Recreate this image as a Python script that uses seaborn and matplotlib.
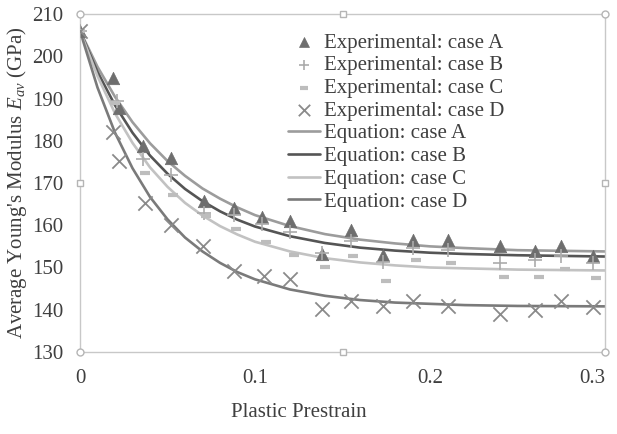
import matplotlib
matplotlib.use("Agg")
import matplotlib.pyplot as plt
import seaborn as sns

strain_A = [0, 0.019, 0.022, 0.036, 0.052, 0.071, 0.088, 0.104, 0.120, 0.138, 0.155, 0.173, 0.190, 0.210, 0.240, 0.260, 0.275, 0.293]
modulus_A = [206, 194.8, 187.8, 178.8, 175.9, 165.8, 164.0, 162.0, 161.0, 153.2, 158.9, 153.0, 156.4, 156.6, 155.0, 153.9, 155.1, 152.8]

strain_B = [0, 0.021, 0.036, 0.052, 0.071, 0.088, 0.104, 0.120, 0.138, 0.155, 0.173, 0.190, 0.210, 0.240, 0.260, 0.275, 0.293]
modulus_B = [206, 189.4, 175.6, 171.8, 163.0, 162.4, 160.3, 158.4, 153.5, 156.3, 151.4, 154.6, 154.1, 151.0, 151.8, 152.8, 151.0]

strain_C = [0, 0.020, 0.037, 0.053, 0.072, 0.089, 0.106, 0.122, 0.140, 0.156, 0.175, 0.192, 0.212, 0.242, 0.262, 0.277, 0.295]
modulus_C = [206, 189.0, 172.4, 167.2, 162.1, 159.0, 156.0, 153.0, 150.1, 152.8, 146.9, 151.8, 151.0, 147.7, 147.7, 149.7, 147.6]

strain_D = [0, 0.019, 0.022, 0.037, 0.052, 0.070, 0.088, 0.105, 0.120, 0.138, 0.155, 0.173, 0.190, 0.210, 0.240, 0.260, 0.275, 0.293]
modulus_D = [206, 182.0, 175.2, 165.2, 160.0, 155.1, 149.1, 148.0, 147.2, 140.2, 142.1, 140.9, 142.0, 140.9, 139.0, 140.0, 142.1, 140.7]

# ---- equation curves ----
curve_strain = [0, 0.01, 0.02, 0.03, 0.04, 0.05, 0.06, 0.07, 0.08, 0.09, 0.10, 0.12, 0.14, 0.16, 0.18, 0.20, 0.22, 0.25, 0.30]
curve_A = [206, 197.5, 190.4, 184.4, 179.4, 175.2, 171.7, 168.7, 166.3, 164.2, 162.4, 159.8, 157.9, 156.6, 155.7, 155.0, 154.6, 154.1, 153.8]
curve_B = [206, 196.3, 188.4, 181.9, 176.5, 172.2, 168.6, 165.7, 163.3, 161.3, 159.7, 157.4, 155.8, 154.7, 154.0, 153.5, 153.2, 152.9, 152.6]
curve_C = [206, 195.3, 186.5, 179.5, 173.7, 169.1, 165.3, 162.3, 159.8, 157.8, 156.1, 153.8, 152.2, 151.2, 150.5, 150.0, 149.8, 149.5, 149.3]
curve_D = [206, 192.6, 181.9, 173.5, 166.7, 161.4, 157.1, 153.8, 151.1, 148.9, 147.2, 144.8, 143.3, 142.3, 141.7, 141.4, 141.1, 140.9, 140.8]

x_ticks = [0, 0.1, 0.2, 0.3]
x_tick_labels = ["0", "0.1", "0.2", "0.3"]
y_ticks = [130, 140, 150, 160, 170, 180, 190, 200, 210]

sns.set_theme(style="white")
plt.rcParams["font.family"] = ["Liberation Serif", "DejaVu Serif"]
plt.rcParams["mathtext.fontset"] = "custom"
plt.rcParams["mathtext.rm"] = "Liberation Serif"
plt.rcParams["mathtext.it"] = "Liberation Serif:italic"

W, H = 617, 434
fig = plt.figure(figsize=(W / 100, H / 100), dpi=100)
fig.patch.set_facecolor("white")
ax = fig.add_axes([80 / W, 1 - 352 / H, 525 / W, 338 / H])

txt = "#3f3f3f"

sns.scatterplot(x=strain_A, y=modulus_A, marker="^", s=80, color="#6e6e6e",
                edgecolor="#6e6e6e", linewidth=0.5, label="Experimental: case A", ax=ax, zorder=3)
sns.scatterplot(x=strain_B, y=modulus_B, marker="+", s=95, color="#ababab",
                linewidth=1.2, label="Experimental: case B", ax=ax, zorder=3)
sns.scatterplot(x=strain_C, y=modulus_C, marker="_", s=45, color="#bdbdbd",
                linewidth=3.0, label="Experimental: case C", ax=ax, zorder=3)
sns.scatterplot(x=strain_D, y=modulus_D, marker="x", s=105, color="#8a8a8a",
                linewidth=1.3, label="Experimental: case D", ax=ax, zorder=3)

sns.lineplot(x=curve_strain, y=curve_A, color="#9c9c9c", linewidth=1.9, label="Equation: case A", ax=ax, zorder=2)
sns.lineplot(x=curve_strain, y=curve_B, color="#555555", linewidth=1.9, label="Equation: case B", ax=ax, zorder=2)
sns.lineplot(x=curve_strain, y=curve_C, color="#c2c2c2", linewidth=1.9, label="Equation: case C", ax=ax, zorder=2)
sns.lineplot(x=curve_strain, y=curve_D, color="#7a7a7a", linewidth=1.9, label="Equation: case D", ax=ax, zorder=2)

ax.set_xlim(0, 0.3)
ax.set_ylim(130, 210)
ax.set_xticks(x_ticks)
ax.set_xticklabels(x_tick_labels)
ax.set_yticks(y_ticks)
ax.tick_params(axis="both", length=0, labelsize=15, colors=txt)
ax.tick_params(axis="y", pad=12)
ax.tick_params(axis="x", pad=12)
ax.get_xticklabels()[-1].set_horizontalalignment("right")

for sp in ax.spines.values():
    sp.set_color("#c8c8c8")
    sp.set_linewidth(1.0)
ax.grid(False)

# selection handles of the original plot frame
for (hx, hy) in [(0, 0), (0, 1), (1, 0), (1, 1)]:
    ax.plot([hx], [hy], marker="o", markersize=5, markerfacecolor="white",
            markeredgecolor="#b5b5b5", markeredgewidth=1, transform=ax.transAxes, clip_on=False, zorder=5)
for (hx, hy) in [(0, 0.5), (1, 0.5), (0.5, 0), (0.5, 1)]:
    ax.plot([hx], [hy], marker="s", markersize=4.5, markerfacecolor="white",
            markeredgecolor="#b5b5b5", markeredgewidth=1, transform=ax.transAxes, clip_on=False, zorder=5)

ax.set_xlabel("Plastic Prestrain", fontsize=15, color=txt)
ax.xaxis.set_label_coords(0.417, -0.151)
ax.set_ylabel("Average Young's Modulus $E_{av}$ (GPa)", fontsize=15, color=txt)
ax.yaxis.set_label_coords(-0.097, 0.5)

handles, labels = ax.get_legend_handles_labels()
ax.legend(handles, labels, loc="upper left", bbox_to_anchor=(288 / W, 1 - 33 / H),
          bbox_transform=fig.transFigure, frameon=False, fontsize=15,
          handlelength=1.55, handletextpad=0.2, labelspacing=0.15,
          borderpad=0, borderaxespad=0, labelcolor=txt, scatterpoints=1,
          markerscale=0.8)

fig.savefig("out.png", dpi=100, facecolor="white")
